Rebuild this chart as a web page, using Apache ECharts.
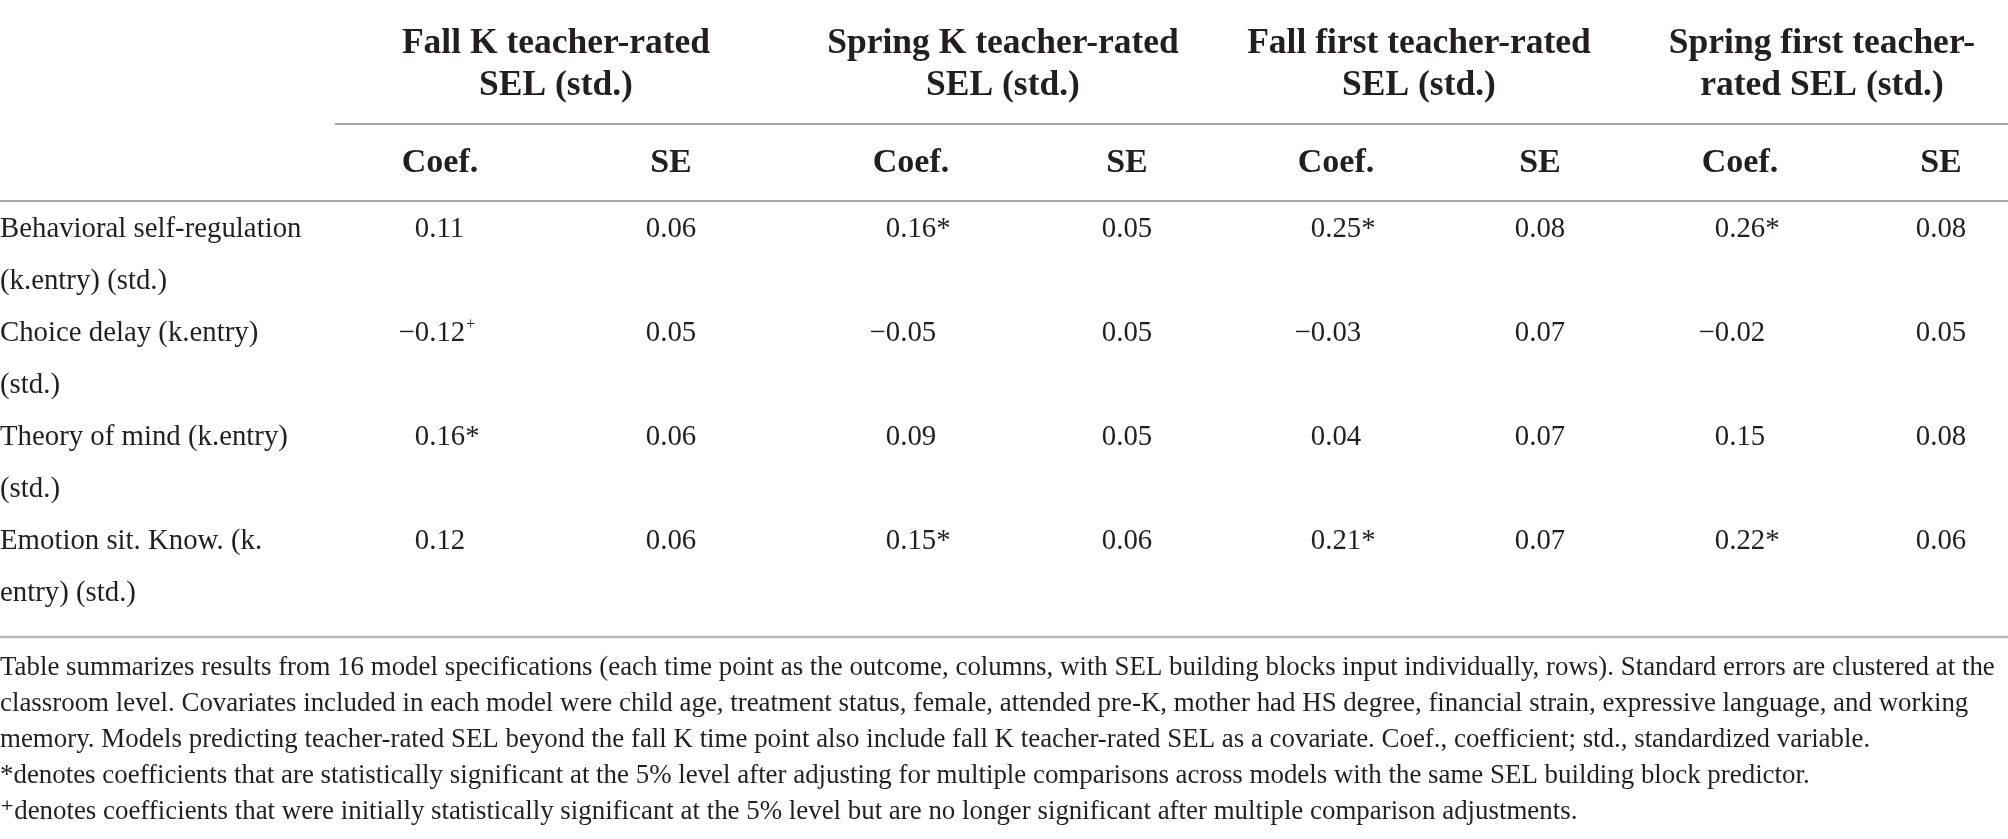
<!DOCTYPE html>
<html>
<head>
<meta charset="utf-8">
<script src="https://cdn.jsdelivr.net/npm/echarts@6/dist/echarts.min.js"></script>
<style>
  html, body { margin: 0; padding: 0; background: #fff; }
  #chart { width: 2008px; height: 839px; }
</style>
</head>
<body>
<div id="chart"></div>
<script>
// ---- data ----
const predictors = [
  'Behavioral self-regulation\n(k.entry) (std.)',
  'Choice delay (k.entry)\n(std.)',
  'Theory of mind (k.entry)\n(std.)',
  'Emotion sit. Know. (k.\nentry) (std.)'
];
const outcomes = [
  'Fall K teacher-rated\nSEL (std.)',
  'Spring K teacher-rated\nSEL (std.)',
  'Fall first teacher-rated\nSEL (std.)',
  'Spring first teacher-\nrated SEL (std.)'
];
const statHeaders = ['Coef.', 'SE'];

const coefFallK = [0.11, -0.12, 0.16, 0.12];
const seFallK = [0.06, 0.05, 0.06, 0.06];
const markFallK = ['', '⁺', '*', ''];

const coefSpringK = [0.16, -0.05, 0.09, 0.15];
const seSpringK = [0.05, 0.05, 0.05, 0.06];
const markSpringK = ['*', '', '', '*'];

const coefFallFirst = [0.25, -0.03, 0.04, 0.21];
const seFallFirst = [0.08, 0.07, 0.07, 0.07];
const markFallFirst = ['*', '', '', '*'];

const coefSpringFirst = [0.26, -0.02, 0.15, 0.22];
const seSpringFirst = [0.08, 0.05, 0.08, 0.06];
const markSpringFirst = ['*', '', '', '*'];

const notes = [
  'Table summarizes results from 16 model specifications (each time point as the outcome, columns, with SEL building blocks input individually, rows). Standard errors are clustered at the',
  'classroom level. Covariates included in each model were child age, treatment status, female, attended pre-K, mother had HS degree, financial strain, expressive language, and working',
  'memory. Models predicting teacher-rated SEL beyond the fall K time point also include fall K teacher-rated SEL as a covariate. Coef., coefficient; std., standardized variable.',
  '*denotes coefficients that are statistically significant at the 5% level after adjusting for multiple comparisons across models with the same SEL building block predictor.',
  '⁺denotes coefficients that were initially statistically significant at the 5% level but are no longer significant after multiple comparison adjustments.'
];

// ---- layout ----
const W = 2008;
const FONT = '"Liberation Serif", "DejaVu Serif", serif';
const INK = '#231f20';
const BODY = 28.8, HEAD = 35.5, SUB = 34, NOTE = 26.9;
const groupCenters = [556, 1003, 1419, 1822];
const coefCenters = [440, 911, 1336, 1740];
const seCenters = [671, 1127, 1540, 1941];
const rowTop = 229, rowPitch = 104, subLine = 52;

const columns = [
  { coef: coefFallK, se: seFallK, mark: markFallK },
  { coef: coefSpringK, se: seSpringK, mark: markSpringK },
  { coef: coefFallFirst, se: seFallFirst, mark: markFallFirst },
  { coef: coefSpringFirst, se: seSpringFirst, mark: markSpringFirst }
];

const ctx = document.createElement('canvas').getContext('2d');
function textWidth(s, size) {
  ctx.font = size + 'px ' + FONT;
  return ctx.measureText(s).width;
}
const digitHalf = textWidth('0.00', BODY) / 2;

// cells: [x, row] plus what to write there
const cellData = [];
const cellInfo = [];
predictors.forEach((p, r) => {
  cellData.push([0, r]);
  cellInfo.push({ kind: 'label', text: p });
});
columns.forEach((c, j) => {
  c.coef.forEach((v, r) => {
    cellData.push([coefCenters[j], r]);
    cellInfo.push({
      kind: 'coef',
      sign: v < 0 ? '−' : '',
      text: Math.abs(v).toFixed(2),
      mark: c.mark[r]
    });
    cellData.push([seCenters[j], r]);
    cellInfo.push({ kind: 'se', text: c.se[r].toFixed(2) });
  });
});

function txt(x, y, text, size, opts) {
  return {
    type: 'text', x: x, y: y,
    style: Object.assign({
      text: text, fontSize: size, fontFamily: FONT, fill: INK,
      align: 'center', verticalAlign: 'middle'
    }, opts || {})
  };
}

const graphic = [];
// group headers
outcomes.forEach((o, j) => {
  graphic.push(txt(groupCenters[j], 65, o, HEAD, { fontWeight: 'bold', lineHeight: 42 }));
});
// Coef. / SE headers
coefCenters.forEach((x, j) => {
  graphic.push(txt(x, 163, statHeaders[0], SUB, { fontWeight: 'bold' }));
  graphic.push(txt(seCenters[j], 163, statHeaders[1], SUB, { fontWeight: 'bold' }));
});
// rules
graphic.push({ type: 'line', shape: { x1: 335, y1: 124, x2: W, y2: 124 }, style: { stroke: '#8a8a8a', lineWidth: 1.6 } });
graphic.push({ type: 'line', shape: { x1: 0, y1: 201, x2: W, y2: 201 }, style: { stroke: '#8a8a8a', lineWidth: 1.6 } });
graphic.push({ type: 'line', shape: { x1: 0, y1: 637, x2: W, y2: 637 }, style: { stroke: '#b5b5b5', lineWidth: 2.5 } });
// footnotes
notes.forEach((n, i) => {
  graphic.push(txt(0, 668 + i * 36, n, NOTE, { align: 'left' }));
});

const chart = echarts.init(document.getElementById('chart'));
chart.setOption({
  animation: false,
  grid: { left: 0, right: 0, top: rowTop, height: rowPitch * (predictors.length - 1) },
  xAxis: { type: 'value', min: 0, max: W, show: false },
  yAxis: { type: 'value', min: 0, max: predictors.length - 1, inverse: true, show: false },
  graphic: graphic,
  series: [{
    type: 'custom',
    clip: false,
    data: cellData,
    renderItem: function (params, api) {
      const info = cellInfo[params.dataIndex];
      const p = api.coord([api.value(0), api.value(1)]);
      if (info.kind === 'label') {
        return txt(p[0], p[1] - subLine / 2, info.text, BODY,
          { align: 'left', verticalAlign: 'top', lineHeight: subLine });
      }
      if (info.kind === 'se') {
        return txt(p[0], p[1], info.text, BODY);
      }
      const xl = p[0] - digitHalf;
      const w = textWidth(info.text, BODY);
      const children = [
        txt(xl, p[1], info.sign, BODY, { align: 'right' }),
        txt(xl, p[1], info.text, BODY, { align: 'left' })
      ];
      if (info.mark === '*') {
        children.push(txt(xl + w, p[1], '*', BODY, { align: 'left' }));
      } else if (info.mark) {
        children.push(txt(xl + w + 1, p[1] - 8, '+', BODY * 0.55, { align: 'left' }));
      }
      return { type: 'group', children: children };
    }
  }]
});
</script>
</body>
</html>
